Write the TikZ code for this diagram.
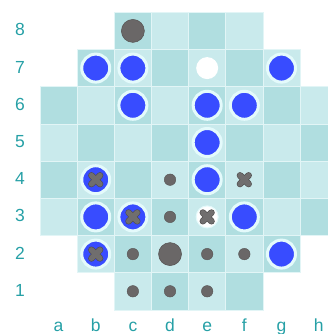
\documentclass[tikz,border=0pt]{standalone}
\usepackage{fontspec}
\setmainfont{Liberation Sans}
\definecolor{cdark}{RGB}{176,222,224}
\definecolor{clight}{RGB}{201,234,236}
\definecolor{cline}{RGB}{226,245,246}
\definecolor{lbl}{RGB}{38,160,166}
\definecolor{pblue}{RGB}{56,76,255}
\definecolor{phalo}{RGB}{228,250,251}
\definecolor{pgray}{RGB}{106,103,103}
\definecolor{pgrayd}{RGB}{85,82,82}
\definecolor{xgray}{RGB}{112,110,110}
\definecolor{xgrayd}{RGB}{82,80,80}
\tikzset{
  sqbox/.style={rectangle, draw=cline, line width=0.8pt, minimum width=37.15pt, minimum height=37.2pt, inner sep=0pt},
  bluepiece/.style={circle, fill=pblue, draw=phalo, line width=3pt, minimum size=28pt, inner sep=0pt},
  bigdot/.style={circle, fill=pgray, draw=pgrayd, line width=0.5pt, minimum size=23pt, inner sep=0pt},
  smalldot/.style={circle, fill=pgray, draw=pgrayd, line width=0.4pt, minimum size=11.5pt, inner sep=0pt},
  whitepiece/.style={circle, fill=white, draw=phalo, line width=1pt, minimum size=22pt, inner sep=0pt},
  xouter/.style={draw=xgrayd, line width=6.6pt, line cap=round},
  xinner/.style={draw=xgray, line width=5.2pt, line cap=round},
  lbltext/.style={text=lbl, font=\fontsize{17.5}{20}\selectfont, inner sep=0pt}
}
\begin{document}
\begin{tikzpicture}[x=1pt,y=-1pt]
\useasboundingbox (0,0) rectangle (327,334);
% board squares
\foreach \r/\cmin/\cmax in {8/3/6, 7/2/7, 6/1/8, 5/1/8, 4/1/8, 3/1/8, 2/2/7, 1/3/6}{
  \foreach \c in {\cmin,...,\cmax}{
    \pgfmathtruncatemacro{\sqpar}{mod(\c+\r,2)}
    \ifnum\sqpar=1 \def\sqcol{cdark}\else\def\sqcol{clight}\fi
    \node[sqbox, fill=\sqcol] (sq-\c-\r) at ({40+(\c-0.5)*37.15},{12.3+(8.5-\r)*37.2}) {};
  }
}
% rank labels
\foreach \r in {1,...,8}{
  \node[lbltext] (rk-\r) at (20,{12.3+(8.5-\r)*37.2-1}) {\r};
}
% file labels
\foreach \f [count=\c] in {a,b,c,d,e,f,g,h}{
  \node[lbltext, anchor=base] (fl-\f) at ({40+(\c-0.5)*37.15},331.6) {\f};
}
% pieces
\node[bigdot] (p-c8) at (sq-3-8) {};
\node[bluepiece] (p-b7) at (sq-2-7) {};
\node[bluepiece] (p-c7) at (sq-3-7) {};
\node[whitepiece, draw=none] (p-e7) at (sq-5-7) {};
\node[bluepiece] (p-g7) at (sq-7-7) {};
\node[bluepiece] (p-c6) at (sq-3-6) {};
\node[bluepiece] (p-e6) at (sq-5-6) {};
\node[bluepiece] (p-f6) at (sq-6-6) {};
\node[bluepiece] (p-e5) at (sq-5-5) {};
\node[bluepiece] (p-b4) at (sq-2-4) {};
\node[smalldot] (p-d4) at (sq-4-4) {};
\node[bluepiece] (p-e4) at (sq-5-4) {};
\node[bluepiece] (p-b3) at (sq-2-3) {};
\node[bluepiece] (p-c3) at (sq-3-3) {};
\node[smalldot] (p-d3) at (sq-4-3) {};
\node[whitepiece] (p-e3) at (sq-5-3) {};
\node[bluepiece] (p-f3) at (sq-6-3) {};
\node[bluepiece] (p-b2) at (sq-2-2) {};
\node[smalldot] (p-c2) at (sq-3-2) {};
\node[bigdot] (p-d2) at (sq-4-2) {};
\node[smalldot] (p-e2) at (sq-5-2) {};
\node[smalldot] (p-f2) at (sq-6-2) {};
\node[bluepiece] (p-g2) at (sq-7-2) {};
\node[smalldot] (p-c1) at (sq-3-1) {};
\node[smalldot] (p-d1) at (sq-4-1) {};
\node[smalldot] (p-e1) at (sq-5-1) {};
% crosses
\foreach \s in {2-4,3-3,2-2,5-3,6-4}{
  \foreach \st in {xouter,xinner}{
    \draw[\st] (sq-\s.center) ++(-4.3,-4.3) -- ++(8.6,8.6);
    \draw[\st] (sq-\s.center) ++(-4.3,4.3) -- ++(8.6,-8.6);
  }
}
\end{tikzpicture}
\end{document}
